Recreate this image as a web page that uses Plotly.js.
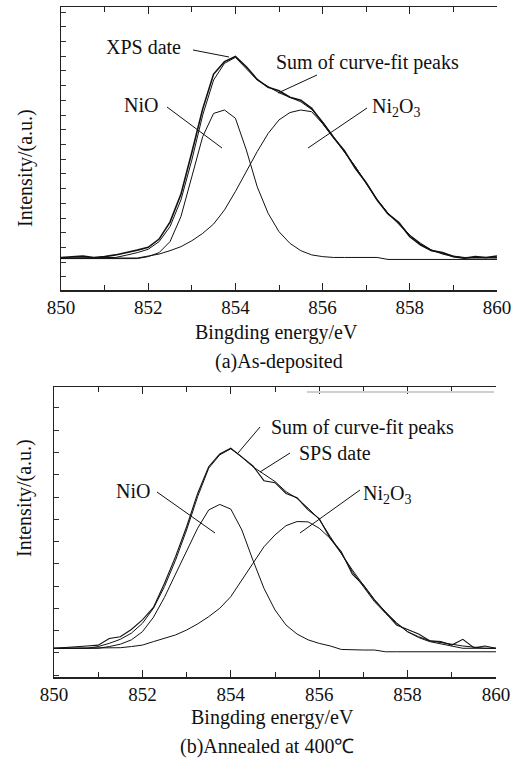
<!DOCTYPE html>
<html><head><meta charset="utf-8">
<script src="https://cdn.plot.ly/plotly-3.0.1.min.js"></script>
<style>
html,body{margin:0;padding:0;background:#fff}
</style>
</head><body><div id="chart" style="width:519px;height:762px"></div>
<script>
// Binding energy grid (eV)
const energy = [850,850.25,850.5,850.75,851,851.25,851.5,851.75,852,852.25,852.5,852.75,853,853.25,853.5,853.75,854,854.25,854.5,854.75,855,855.25,855.5,855.75,856,856.25,856.5,856.75,857,857.25,857.5,857.75,858,858.25,858.5,858.75,859,859.25,859.5,859.75,860];

// (a) As-deposited
const xpsA   = [11.5,11.8,12.0,11.5,11.8,12.4,13.2,14.1,15.1,18.0,24.0,33.8,48.6,64.0,76.3,80.7,82.5,78.9,74.4,71.6,70.4,68.1,67.1,64.2,59.1,53.9,49.2,43.0,37.9,31.8,26.9,23.8,18.8,15.9,13.9,13.2,11.8,11.2,11.8,11.5,12.0];
const sumA   = [11.3,11.3,11.3,11.3,11.3,11.5,12.3,13.2,14.4,17.1,22.4,31.8,45.9,61.8,74.2,80.1,82.2,78.3,74.2,71.9,69.7,68.1,66.5,63.8,59.5,54.2,48.9,43.6,37.7,32.0,27.1,23.3,19.3,16.2,14.1,13.0,12.0,11.5,11.5,11.5,11.5];
const nioA   = [11.1,11.1,11.1,11.1,11.1,11.1,11.1,11.1,11.8,13.2,17.1,25.9,40.0,54.2,62.4,63.6,60.7,49.5,36.5,27.1,20.6,16.5,13.9,12.4,11.8,11.5,11.5,11.5,11.5,11.5,10.8,10.8,10.8,10.8,10.8,10.8,10.8,10.8,10.8,10.8,10.8];
const ni2o3A = [11.3,11.3,11.3,11.3,11.3,11.3,11.3,11.3,12.0,12.7,13.9,15.3,17.4,20.0,23.3,28.3,34.8,41.8,48.9,55.3,60.1,62.7,63.6,63.0,58.8,53.9,48.9,43.6,37.7,31.8,27.1,23.6,19.4,16.5,14.1,12.7,11.8,11.3,11.3,11.3,11.3];

// (b) Annealed at 400 C
const spsB   = [9.9,10.1,10.5,10.7,11.0,13.3,13.9,16.4,19.7,24.0,32.3,41.5,51.8,63.3,72.5,76.9,78.9,75.8,72.8,67.7,67.0,63.3,61.8,57.6,54.6,47.8,43.2,35.5,31.7,26.6,22.2,17.9,16.4,14.8,12.5,12.2,11.0,13.0,10.1,10.7,9.9];
const sumB   = [9.9,9.9,9.9,9.9,10.5,11.6,13.0,15.1,18.5,23.7,31.2,40.3,50.7,62.2,72.0,76.6,78.7,75.8,72.5,70.0,67.4,63.9,61.6,58.2,54.4,48.4,42.6,36.3,31.2,26.0,22.0,18.5,15.6,13.9,12.5,11.8,11.3,10.7,10.2,9.9,9.9];
const nioB   = [9.9,9.9,9.9,9.9,9.9,10.5,11.3,12.8,15.6,20.6,27.5,35.5,43.6,51.3,57.6,59.5,57.9,50.7,40.3,30.6,23.1,17.9,14.8,12.8,11.6,10.7,9.5,9.3,9.3,9.3,8.7,8.7,8.7,8.7,8.7,8.7,8.7,8.7,8.7,8.7,8.7];
const ni2o3B = [9.9,9.9,9.9,9.9,9.9,9.9,10.1,10.5,11.0,12.2,13.3,14.5,16.2,18.3,20.8,23.7,27.7,33.5,39.2,44.9,49.0,52.2,53.6,53.5,51.3,47.8,42.6,36.9,31.7,26.6,22.5,18.7,15.6,13.6,12.2,11.4,10.7,9.9,9.9,9.9,9.9];

const xTitle = 'Bingding energy/eV';
const yTitle = 'Intensity/(a.u.)';
const captionA = '(a)As-deposited';
const captionB = '(b)Annealed at 400℃';

const W = 519, H = 762;
const px = p => p / W;
const py = p => 1 - p / H;
const FONT = 'Liberation Serif';
const INK = '#111';

function tr(y, xa, ya, w) {
  return {x: energy, y: y, xaxis: xa, yaxis: ya, type: 'scatter', mode: 'lines',
    line: {color: INK, width: w}, hoverinfo: 'skip', showlegend: false};
}
const data = [
  tr(ni2o3A, 'x', 'y', 1), tr(nioA, 'x', 'y', 1), tr(sumA, 'x', 'y', 1), tr(xpsA, 'x', 'y', 1.6),
  tr(ni2o3B, 'x2', 'y3', 1), tr(nioB, 'x2', 'y3', 1), tr(sumB, 'x2', 'y3', 1), tr(spsB, 'x2', 'y3', 1.1)
];

function xax(dom, anchor) {
  return {domain: dom, anchor: anchor, range: [850, 860], tick0: 850, dtick: 2,
    ticks: 'inside', ticklen: 7, tickwidth: 1, tickcolor: '#222',
    minor: {dtick: 1, ticks: 'inside', ticklen: 5, tickwidth: 1, tickcolor: '#222'},
    showline: true, linewidth: 1.5, linecolor: '#222', mirror: 'ticks',
    showgrid: false, zeroline: false, fixedrange: true,
    tickfont: {family: FONT, size: 19, color: INK}};
}
function yax(dom, anchor, t0, dt, extra) {
  return Object.assign({domain: dom, anchor: anchor, range: [0, 100], tick0: t0, dtick: dt,
    ticks: 'inside', ticklen: 5, tickwidth: 1, tickcolor: '#333', showticklabels: false,
    showline: true, linewidth: 1.5, linecolor: '#222', showgrid: false, zeroline: false, fixedrange: true}, extra || {});
}

function lbl(text, x, y, angle) {
  const a = {text: text, xref: 'paper', yref: 'paper', x: px(x), y: py(y), xanchor: 'center', yanchor: 'middle',
    showarrow: false, font: {family: FONT, size: 20, color: INK}};
  if (angle) a.textangle = angle;
  return a;
}
function seg(x0, y0, x1, y1, col, w) {
  return {type: 'line', xref: 'paper', yref: 'paper', x0: px(x0), y0: py(y0), x1: px(x1), y1: py(y1),
    line: {color: col || INK, width: w || 1}};
}

const layout = {
  width: W, height: H, margin: {l: 0, r: 0, t: 0, b: 0},
  paper_bgcolor: '#fff', plot_bgcolor: 'rgba(0,0,0,0)', showlegend: false,
  xaxis: xax([61 / W, 497 / W], 'y'),
  yaxis: yax([py(290), py(7)], 'x', 4.6, 5.2),
  yaxis2: yax([py(290), py(7)], 'x', 9.9, 10.1, {overlaying: 'y', side: 'right'}),
  xaxis2: xax([54 / W, 496 / W], 'y3'),
  yaxis3: yax([py(677), py(387)], 'x2', 8.3, 7.68),
  yaxis4: yax([py(677), py(387)], 'x2', 10.5, 10, {overlaying: 'y3', side: 'right'}),
  annotations: [
    lbl('XPS date', 144, 47), lbl('Sum of curve-fit peaks', 367, 63),
    lbl('NiO', 141, 105), lbl('Ni<sub>2</sub>O<sub>3</sub>', 396, 108),
    lbl(xTitle, 276, 332), lbl(captionA, 279, 361), lbl(yTitle, 25, 168, -90),
    lbl('Sum of curve-fit peaks', 362, 427), lbl('SPS date', 335, 453),
    lbl('NiO', 133, 491), lbl('Ni<sub>2</sub>O<sub>3</sub>', 387, 494),
    lbl(xTitle, 272, 717), lbl(captionB, 267, 746), lbl(yTitle, 25, 498, -90)
  ],
  shapes: [
    seg(193, 50, 229, 57), seg(317, 75, 278, 93), seg(167, 107, 222, 148), seg(367, 108, 308, 148),
    seg(260, 427, 238, 453), seg(290, 453, 260, 472), seg(157, 492, 215, 533), seg(360, 490, 300, 533),
    seg(307, 392, 494, 392, '#cfcfcf', 2)
  ]
};
Plotly.newPlot('chart', data, layout, {staticPlot: true, displayModeBar: false});
</script>
</body></html>
